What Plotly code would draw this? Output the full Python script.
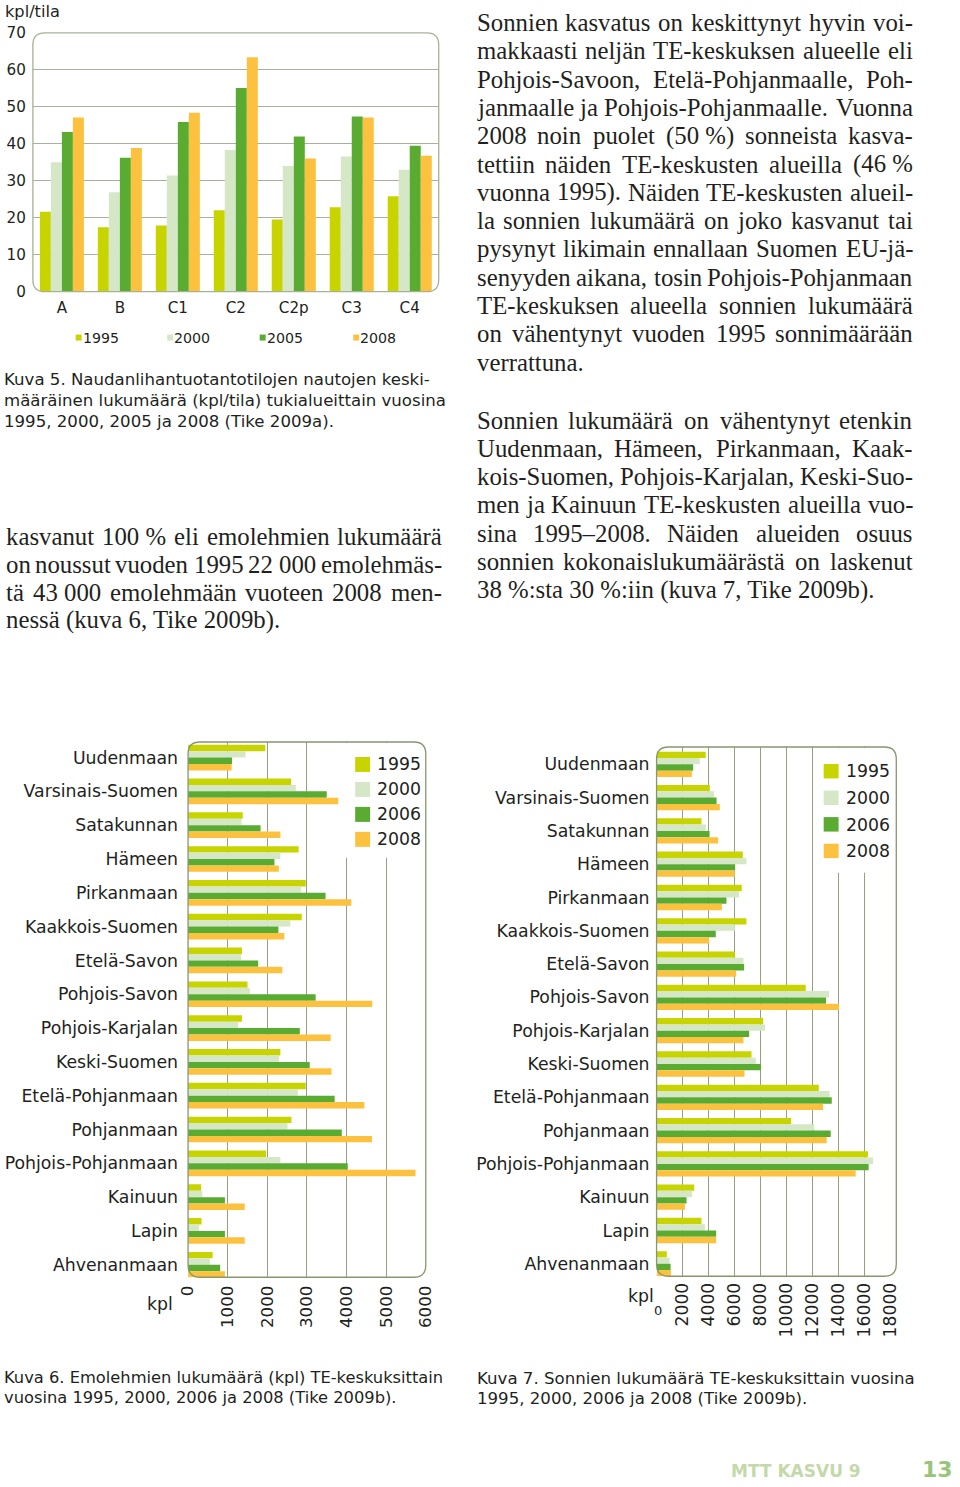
import plotly.graph_objects as go

W, H = 960, 1487
# the photographed page shows the figure inside an 8px frame; positions below are
# given in photographed pixels and mapped into the figure's paper coordinates.
OFF = 8


def PX(x):
    return (x - OFF) / (W - 2 * OFF)


def PY(y):
    return 1 - (y - OFF) / (H - 2 * OFF)


SANS = "DejaVu Sans"
SERIF = "Liberation Serif"
INK = "#231f20"

# ---------------- data ----------------
zones = ["A", "B", "C1", "C2", "C2p", "C3", "C4"]
top_years = ["1995", "2000", "2005", "2008"]
top_1995 = [21.6, 17.4, 17.9, 22.0, 19.5, 22.8, 25.8]
top_2000 = [35.0, 26.9, 31.4, 38.3, 34.0, 36.6, 33.0]
top_2005 = [43.2, 36.2, 45.9, 55.1, 42.0, 47.4, 39.5]
top_2008 = [47.1, 38.9, 48.4, 63.4, 36.0, 47.1, 36.8]

regions = ["Uudenmaan", "Varsinais-Suomen", "Satakunnan", "Hämeen", "Pirkanmaan",
           "Kaakkois-Suomen", "Etelä-Savon", "Pohjois-Savon", "Pohjois-Karjalan",
           "Keski-Suomen", "Etelä-Pohjanmaan", "Pohjanmaan", "Pohjois-Pohjanmaan",
           "Kainuun", "Lapin", "Ahvenanmaan"]
bar_years = ["1995", "2000", "2006", "2008"]

cows_1995 = [1950, 2600, 1380, 2790, 2970, 2870, 1360, 1500, 1360, 2330, 2970, 2610, 1970, 330, 340, 620]
cows_2000 = [1450, 2720, 1350, 2330, 2850, 2580, 1340, 1560, 1260, 2300, 2770, 2510, 2330, 360, 280, 550]
cows_2006 = [1110, 3500, 1830, 2180, 3470, 2280, 1770, 3220, 2820, 3070, 3700, 3880, 4030, 930, 930, 810]
cows_2008 = [1100, 3790, 2330, 2290, 4120, 2430, 2380, 4650, 3600, 3620, 4450, 4640, 5740, 1430, 1430, 930]

bulls_1995 = [3790, 4100, 3460, 6640, 6560, 6920, 6030, 11490, 8210, 7310, 12490, 10360, 16280, 2900, 3460, 790]
bulls_2000 = [3330, 4440, 3790, 6920, 6360, 6030, 6690, 13280, 8360, 7640, 13330, 12150, 16670, 2720, 3720, 1000]
bulls_2006 = [2820, 4620, 4080, 6050, 5380, 4560, 6740, 13050, 7130, 8030, 13490, 13410, 16330, 2310, 4590, 1080]
bulls_2008 = [2720, 4870, 4740, 6030, 5030, 4050, 6130, 14050, 6690, 6770, 12820, 13100, 15330, 2180, 4590, 1100]

cow_ticks = [0, 1000, 2000, 3000, 4000, 5000, 6000]
bull_ticks = [2000, 4000, 6000, 8000, 10000, 12000, 14000, 16000, 18000]
top_ticks = [0, 10, 20, 30, 40, 50, 60, 70]

# ---------------- style ----------------
colors = ["#c8d400", "#d6e7c8", "#5aab32", "#fcc23f"]
GRID_TOP = "#a9b19b"
GRID = "#95a083"
BORDER_TOP = "#a6b294"
BORDER = "#87976d"

fig = go.Figure()

for name, vals, col in zip(top_years, [top_1995, top_2000, top_2005, top_2008], colors):
    fig.add_trace(go.Bar(x=zones, y=vals, name=name, marker=dict(color=col, line=dict(width=0)),
                         xaxis="x", yaxis="y", showlegend=False))

for name, vals, col in zip(bar_years, [cows_1995, cows_2000, cows_2006, cows_2008], colors):
    fig.add_trace(go.Bar(x=vals, y=regions, orientation="h", name=name,
                         marker=dict(color=col, line=dict(width=0)),
                         xaxis="x2", yaxis="y2", showlegend=False))

for name, vals, col in zip(bar_years, [bulls_1995, bulls_2000, bulls_2006, bulls_2008], colors):
    fig.add_trace(go.Bar(x=vals, y=regions, orientation="h", name=name,
                         marker=dict(color=col, line=dict(width=0)),
                         xaxis="x3", yaxis="y3", showlegend=False))

tf15 = dict(family=SANS, size=15.2, color=INK)
tf17 = dict(family=SANS, size=17.3, color=INK)

fig.update_layout(
    width=W, height=H, margin=dict(l=0, r=0, t=0, b=0),
    paper_bgcolor="white", plot_bgcolor="rgba(0,0,0,0)",
    barmode="group", bargap=0.24, bargroupgap=0, showlegend=False,
    xaxis=dict(domain=[PX(30), PX(438)], type="category", showgrid=False, zeroline=False,
               showline=False, ticks="", tickfont=tf15, anchor="y", ticklabelstandoff=5),
    yaxis=dict(domain=[PY(291), PY(32)], range=[0, 70], tickvals=top_ticks, showgrid=True,
               gridcolor=GRID_TOP, gridwidth=1, zeroline=False, showline=False, ticks="",
               tickfont=tf15, anchor="x", ticklabelstandoff=6),
    xaxis2=dict(domain=[PX(186), PX(425)], range=[0, 6000], tickvals=cow_ticks,
                ticktext=[str(v) for v in cow_ticks], tickangle=-90, showgrid=True,
                gridcolor=GRID, zeroline=False, showline=False, ticks="",
                tickfont=dict(family=SANS, size=16.7, color=INK), anchor="y2",
                ticklabelstandoff=4),
    yaxis2=dict(domain=[PY(1278), PY(742)], type="category", range=[15.37, -0.46],
                showgrid=False, zeroline=False, showline=False, ticks="", tickfont=tf17,
                anchor="x2", ticklabelstandoff=9),
    xaxis3=dict(domain=[PX(657), PX(892)], range=[0, 18000], tickvals=bull_ticks,
                ticktext=[str(v) for v in bull_ticks], tickangle=-90, showgrid=True,
                gridcolor=GRID, zeroline=False, showline=False, ticks="",
                tickfont=dict(family=SANS, size=17.2, color=INK), anchor="y3",
                ticklabelstandoff=2),
    yaxis3=dict(domain=[PY(1277), PY(747)], type="category", range=[15.375, -0.52],
                showgrid=False, zeroline=False, showline=False, ticks="", tickfont=tf17,
                anchor="x3", ticklabelstandoff=6),
)

shapes = []
annotations = []


def rounded(x0, y0, x1, y1, r, color):
    pts = [
        f"M{PX(x0 + r)},{PY(y0)}", f"L{PX(x1 - r)},{PY(y0)}", f"Q{PX(x1)},{PY(y0)} {PX(x1)},{PY(y0 + r)}",
        f"L{PX(x1)},{PY(y1 - r)}", f"Q{PX(x1)},{PY(y1)} {PX(x1 - r)},{PY(y1)}",
        f"L{PX(x0 + r)},{PY(y1)}", f"Q{PX(x0)},{PY(y1)} {PX(x0)},{PY(y1 - r)}",
        f"L{PX(x0)},{PY(y0 + r)}", f"Q{PX(x0)},{PY(y0)} {PX(x0 + r)},{PY(y0)}", "Z"]
    shapes.append(dict(type="path", xref="paper", yref="paper", path=" ".join(pts),
                       line=dict(color=color, width=1.3), fillcolor="rgba(0,0,0,0)", layer="above"))


def rect(x0, y0, x1, y1, color):
    shapes.append(dict(type="rect", xref="paper", yref="paper", x0=PX(x0), x1=PX(x1),
                       y0=PY(y1), y1=PY(y0), fillcolor=color, line=dict(width=0), layer="above"))


def text(x, y, s, size, family=SANS, color=INK, xanchor="left", yanchor="middle",
         bold=False):
    annotations.append(dict(x=PX(x), y=PY(y), xref="paper", yref="paper", text=s,
                            showarrow=False, xanchor=xanchor, yanchor=yanchor,
                            borderpad=0, borderwidth=0,
                            font=dict(family=family, size=size, color=color,
                                      weight="bold" if bold else "normal")))


# plot-area frames
rounded(30, 32, 438, 291, 12, BORDER_TOP)

# legend boxes (white) then frames
rect(338, 743, 424, 858, "white")
rect(818, 748, 896, 873, "white")
rounded(186, 742, 425, 1278, 12, BORDER)
rounded(657, 747, 898, 1277, 12, BORDER)

# legends of bar charts
for i, (name, col) in enumerate(zip(bar_years, colors)):
    y0 = 757 + i * 25
    rect(354, y0, 369, y0 + 15, col)
    text(376, y0 + 7.5, name, 17.3)
    y1 = 764 + i * 26.6
    rect(825, y1, 840, y1 + 14.5, col)
    text(847, y1 + 7.5, name, 17.3)

# legend of top chart
for name, col, sx in zip(top_years, colors, [73, 165, 258, 352]):
    rect(sx, 334, sx + 6, 340, col)
    text(sx + 7, 337, name, 14.2)

text(2, 11, "kpl/tila", 16.2)
text(145, 1305, "kpl", 17.3)
text(628, 1297, "kpl", 17.3)
text(654, 1311, "0", 13)

# captions
for i, s in enumerate(["Kuva 5. Naudanlihantuotantotilojen nautojen keski-",
                       "määräinen lukumäärä (kpl/tila) tukialueittain vuosina",
                       "1995, 2000, 2005 ja 2008 (Tike 2009a)."]):
    text(1, 379 + i * 21, s, 16.6)
for i, s in enumerate(["Kuva 6. Emolehmien lukumäärä (kpl) TE-keskuksittain",
                       "vuosina 1995, 2000, 2006 ja 2008 (Tike 2009b)."]):
    text(1, 1378 + i * 20.5, s, 16.3)
for i, s in enumerate(["Kuva 7. Sonnien lukumäärä TE-keskuksittain vuosina",
                       "1995, 2000, 2006 ja 2008 (Tike 2009b)."]):
    text(476, 1379 + i * 20.5, s, 16.6)

# footer
text(732, 1472, "MTT KASVU 9", 17, color="#c4d9a9", bold=True)
text(955, 1470, "13", 22, color="#98c579", bold=True, xanchor="right")

# ---------------- justified body text ----------------
TW = {' ': 250, '\u00a0': 250, '%': 833, '(': 333, ')': 333, ',': 250, '-': 333, '.': 250,
      ':': 278, '\u2013': 500,
      'A': 722, 'B': 667, 'C': 667, 'D': 722, 'E': 611, 'F': 556, 'G': 722, 'H': 722, 'I': 333,
      'J': 389, 'K': 722, 'L': 611, 'M': 889, 'N': 722, 'O': 722, 'P': 556, 'R': 667, 'S': 556,
      'T': 611, 'U': 722, 'V': 722, 'W': 944, 'Y': 722,
      'a': 444, 'b': 500, 'c': 444, 'd': 500, 'e': 444, 'f': 333, 'g': 500, 'h': 500, 'i': 278,
      'j': 278, 'k': 500, 'l': 278, 'm': 778, 'n': 500, 'o': 500, 'p': 500, 'q': 500, 'r': 333,
      's': 389, 't': 278, 'u': 500, 'v': 500, 'w': 722, 'x': 500, 'y': 500, 'z': 444, 'ä': 444,
      'ö': 500}
BODY = 24.8


def word_w(w):
    return sum(TW.get(c, 500) for c in w) * BODY / 1000


def paragraph(lines, xl, xr, base0, lead):
    for i, line in enumerate(lines):
        yc = base0 + i * lead - 0.338 * BODY
        if i == len(lines) - 1:
            text(xl, yc, line, BODY, family=SERIF)
            continue
        words = line.split(" ")
        widths = [word_w(w) for w in words]
        gap = (xr - xl - sum(widths)) / (len(words) - 1)
        x = xl
        for j, (w, wd) in enumerate(zip(words, widths)):
            if j == 0:
                text(xl, yc, w, BODY, family=SERIF)
            elif j == len(words) - 1:
                text(xr, yc, w, BODY, family=SERIF, xanchor="right")
            else:
                text(x + wd / 2, yc, w, BODY, family=SERIF, xanchor="center")
            x += wd + gap


NB = "\u00a0"
left_par = [
    "kasvanut 100" + NB + "% eli emolehmien lukumäärä",
    "on noussut vuoden 1995 22" + NB + "000 emolehmäs-",
    "tä 43" + NB + "000 emolehmään vuoteen 2008 men-",
    "nessä (kuva 6, Tike 2009b).",
]
right_par1 = [
    "Sonnien kasvatus on keskittynyt hyvin voi-",
    "makkaasti neljän TE-keskuksen alueelle eli",
    "Pohjois-Savoon, Etelä-Pohjanmaalle, Poh-",
    "janmaalle ja Pohjois-Pohjanmaalle. Vuonna",
    "2008 noin puolet (50" + NB + "%) sonneista kasva-",
    "tettiin näiden TE-keskusten alueilla (46" + NB + "%",
    "vuonna 1995). Näiden TE-keskusten alueil-",
    "la sonnien lukumäärä on joko kasvanut tai",
    "pysynyt likimain ennallaan Suomen EU-jä-",
    "senyyden aikana, tosin Pohjois-Pohjanmaan",
    "TE-keskuksen alueella sonnien lukumäärä",
    "on vähentynyt vuoden 1995 sonnimäärään",
    "verrattuna.",
]
right_par2 = [
    "Sonnien lukumäärä on vähentynyt etenkin",
    "Uudenmaan, Hämeen, Pirkanmaan, Kaak-",
    "kois-Suomen, Pohjois-Karjalan, Keski-Suo-",
    "men ja Kainuun TE-keskusten alueilla vuo-",
    "sina 1995\u20132008. Näiden alueiden osuus",
    "sonnien kokonaislukumäärästä on laskenut",
    "38" + NB + "%:sta 30" + NB + "%:iin (kuva 7, Tike 2009b).",
]

paragraph(left_par, 3, 441, 545, 27.8)
paragraph(right_par1, 476, 915, 30, 28.33)
paragraph(right_par2, 476, 915, 428, 28.33)

fig.update_layout(shapes=shapes, annotations=annotations)
fig.write_html("out.html")
